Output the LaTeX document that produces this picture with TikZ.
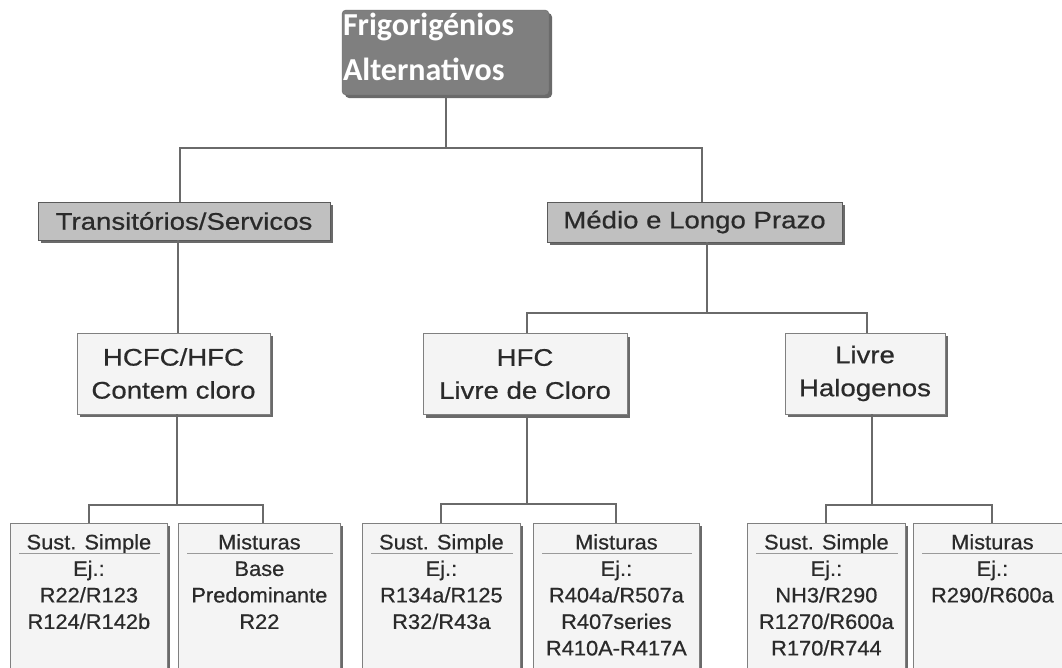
\documentclass[tikz,border=0pt]{standalone}
\usepackage{fontspec}
\setmainfont{Liberation Sans}
\newfontfamily\labfont[FakeStretch=1.15,FakeBold=0.6]{Liberation Sans}
\newfontfamily\smallfont[FakeStretch=1.04,FakeBold=0.6]{Liberation Sans}
\newfontfamily\topfont{Carlito}
\usetikzlibrary{shadows}
\definecolor{topfill}{HTML}{7F7F7F}
\definecolor{topborder}{HTML}{6A6A6A}
\definecolor{midfill}{HTML}{C0C0C0}
\definecolor{midborder}{HTML}{5A5A5A}
\definecolor{lightfill}{HTML}{F4F4F4}
\definecolor{lightborder}{HTML}{808080}
\definecolor{txt}{HTML}{2A2A2A}
\definecolor{linec}{HTML}{6A6A6A}
\definecolor{shadowc}{HTML}{6A6A6A}
\definecolor{sepc}{HTML}{9A9A9A}
\begin{document}
\begin{tikzpicture}[x=1pt,y=-1pt,
  shadowed/.style={drop shadow={shadow xshift=3pt,shadow yshift=-3pt,fill=shadowc,opacity=1}},
  topbox/.style={draw=topborder,fill=topfill,rounded corners=4pt,inner sep=0pt,text=white,
    font=\topfont\bfseries\fontsize{32}{45}\selectfont,shadowed},
  lvltwo/.style={draw=midborder,fill=midfill,inner sep=0pt,text=txt,line width=0.8pt,
    font=\labfont\fontsize{24}{28}\selectfont,shadowed},
  lvlthree/.style={draw=lightborder,fill=lightfill,inner sep=0pt,text=txt,align=center,line width=0.8pt,
    minimum height=81pt,font=\labfont\fontsize{24}{33}\selectfont,shadowed},
  botbox/.style={draw=lightborder,fill=lightfill,inner sep=0pt,text=txt,anchor=north west,line width=0.8pt,
    font=\smallfont\fontsize{21}{26.5}\selectfont,shadowed},
  conn/.style={draw=linec,line width=2pt},
  sepline/.style={draw=sepc,line width=1pt}]
\clip (0,0) rectangle (1062,667);
\fill[white] (0,0) rectangle (1062,667);

% top
\node[topbox] (top) at (445.5,52.5) {\parbox[t][85pt][t]{207pt}{\raggedright\hspace*{1pt}\rule{0pt}{25pt}Frigorigénios\\\hspace*{1pt}Alternativos}};

% level 2
\node[lvltwo,minimum width=292pt,minimum height=38pt] (tr) at (184,221) {Transitórios/Servicos};
\node[lvltwo,minimum width=295pt,minimum height=40pt] (med) at (694.5,222) {Médio e Longo Prazo};

% level 3
\node[lvlthree,minimum width=193pt] (hcfc) at (173.5,373.5) {HCFC/HFC\\Contem cloro};
\node[lvlthree,minimum width=204pt] (hfc) at (525,374) {HFC\\Livre de Cloro};
\node[lvlthree,minimum width=160pt] (livre) at (865,373.5) {Livre\\Halogenos};

% bottom
\node[botbox] (b1) at (10,523) {\parbox[t][160pt][t]{157pt}{\centering\rule{0pt}{26pt}Sust. Simple\\Ej.:\\R22/R123\\R124/R142b}};
\node[botbox] (b2) at (178,523) {\parbox[t][160pt][t]{162pt}{\centering\rule{0pt}{26pt}Misturas\\Base\\Predominante\\R22}};
\node[botbox] (b3) at (362,523) {\parbox[t][160pt][t]{158pt}{\centering\rule{0pt}{26pt}Sust. Simple\\Ej.:\\R134a/R125\\R32/R43a}};
\node[botbox] (b4) at (533,523) {\parbox[t][160pt][t]{166pt}{\centering\rule{0pt}{26pt}Misturas\\Ej.:\\R404a/R507a\\R407series\\R410A-R417A}};
\node[botbox] (b5) at (747,523) {\parbox[t][160pt][t]{158pt}{\centering\rule{0pt}{26pt}Sust. Simple\\Ej.:\\NH3/R290\\R1270/R600a\\R170/R744}};
\node[botbox] (b6) at (913,523) {\parbox[t][160pt][t]{158pt}{\centering\rule{0pt}{26pt}Misturas\\Ej.:\\R290/R600a}};

\foreach \b in {b1,b2,b3,b4,b5,b6}
  \draw[sepline] ([xshift=9pt,yshift=-30pt]\b.north west) -- ([xshift=-8pt,yshift=-30pt]\b.north east);

% connectors
\draw[conn] (top.south) -- ++(0,53) coordinate (j0);
\coordinate (t1) at ([xshift=-4pt]tr.north);
\coordinate (t2) at ([xshift=7.5pt]med.north);
\draw[conn] (t1) |- (j0) -| (t2);

\coordinate (h1) at ([xshift=4pt]hcfc.north);
\draw[conn] (h1 |- tr.south) -- (h1);

\coordinate (m1) at ([xshift=12.5pt]med.south);
\draw[conn] (m1) -- ++(0,71) coordinate (j1);
\coordinate (f1) at ([xshift=2pt]hfc.north);
\coordinate (l1) at ([xshift=2pt]livre.north);
\draw[conn] (f1) |- (j1) -| (l1);

\coordinate (h2) at ([xshift=3pt]hcfc.south);
\draw[conn] (h2) -- ++(0,91) coordinate (j2);
\coordinate (c2) at ([xshift=4pt]b2.north);
\draw[conn] (b1.north) |- (j2) -| (c2);

\coordinate (f2) at ([xshift=2pt]hfc.south);
\draw[conn] (f2) -- ++(0,89) coordinate (j3);
\draw[conn] (b3.north) |- (j3) -| (b4.north);

\coordinate (l2) at ([xshift=7pt]livre.south);
\draw[conn] (l2) -- ++(0,91) coordinate (j4);
\draw[conn] (b5.north) |- (j4) -| (b6.north);
\end{tikzpicture}
\end{document}
